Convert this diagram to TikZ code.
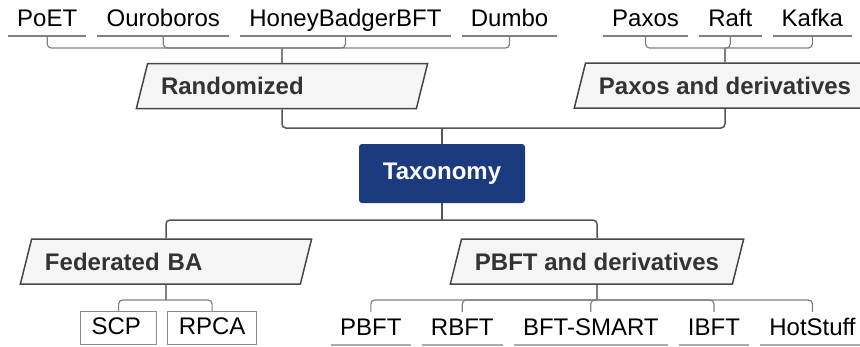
\documentclass[tikz,border=0pt]{standalone}
\usepackage{fontspec}
\setmainfont{Liberation Sans}
\usetikzlibrary{positioning,shapes.geometric}
\definecolor{taxblue}{HTML}{1C3A7E}
\definecolor{catfill}{HTML}{F5F5F5}
\definecolor{catline}{HTML}{474747}
\definecolor{cattext}{HTML}{333333}
\definecolor{trunkgray}{HTML}{555555}
\definecolor{twiggray}{HTML}{7F7F7F}
\definecolor{boxgray}{HTML}{8C8C8C}
\definecolor{topgray}{HTML}{808080}
\definecolor{lowgray}{HTML}{ABABAB}

\begin{document}
\begin{tikzpicture}[x=1pt,y=-1pt,
	leaf/.style={inner xsep=9pt, inner ysep=6pt, text height=17.2pt, text depth=3.5pt, font=\fontsize{24}{28}\selectfont},
	cat/.style={trapezium, trapezium left angle=76, trapezium right angle=104, draw=catline, fill=catfill, line width=1.5pt, text=cattext, font=\fontsize{24}{28}\selectfont\bfseries, text height=17.2pt, text depth=0pt, inner xsep=13.4pt, inner ysep=13.9pt, align=left},
	sbox/.style={leaf, draw=boxgray, line width=1.2pt, inner xsep=11pt, inner ysep=6.1pt},
	trunk/.style={draw=trunkgray, line width=1.5pt, rounded corners=4pt},
	twig/.style={draw=twiggray, line width=1.2pt, rounded corners=4pt},
	underTop/.style={draw=topgray, line width=1.2pt},
	underLow/.style={draw=lowgray, line width=2pt}]
	\useasboundingbox (0,0) rectangle (860,346);

	\node[fill=taxblue, rounded corners=3pt, text=white, font=\fontsize{24}{28}\selectfont\bfseries, minimum width=166pt, minimum height=59pt] (root) at (442,173.5) {Taxonomy};

	\node[cat, text width=242pt] (cRand) at (282,86) {Randomized};
	\node[cat] (cPaxos) at (725,85.5) {Paxos and derivatives};
	\node[cat, text width=242pt] (cFed) at (166,261.5) {Federated BA};
	\node[cat] (cPBFT) at (597,261.5) {PBFT and derivatives};

	\node[leaf, anchor=south west] (lPoET) at (8,36) {PoET};
	\node[leaf] (lOuro) [right=11pt of lPoET] {Ouroboros};
	\node[leaf] (lHB) [right=11pt of lOuro] {HoneyBadgerBFT};
	\node[leaf] (lDumbo) [right=11pt of lHB] {Dumbo};
	\node[leaf, anchor=south west] (lPaxos) at (603,36) {Paxos};
	\node[leaf] (lRaft) [right=11pt of lPaxos] {Raft};
	\node[leaf] (lKafka) [right=11pt of lRaft] {Kafka};

	\node[leaf, anchor=south west] (lPBFT) at (331,345) {PBFT};
	\node[leaf] (lRBFT) [right=11pt of lPBFT] {RBFT};
	\node[leaf] (lSMART) [right=11pt of lRBFT] {BFT-SMART};
	\node[leaf] (lIBFT) [right=11pt of lSMART] {IBFT};
	\node[leaf] (lHot) [right=11pt of lIBFT] {HotStuff};

	\node[sbox, anchor=south west, text width=54pt, align=left] (bSCP) at (80,345) {SCP};
	\node[sbox] (bRPCA) [right=10pt of bSCP] {RPCA};

	\coordinate (jRand) at (282,48);
	\coordinate (jPaxos) at (725,48);
	\coordinate (jTop) at (442,128);
	\coordinate (jBot) at (442,220);
	\coordinate (jFed) at (166,300);
	\coordinate (jPBFT) at (597,300);

	\foreach \n in {lPoET,lOuro,lHB,lDumbo,lPaxos,lRaft,lKafka}
		\draw[underTop] (\n.south west) -- (\n.south east);
	\foreach \n in {lPBFT,lRBFT,lSMART,lIBFT,lHot}
		\draw[underLow] (\n.south west) -- (\n.south east);

	\foreach \n in {lPoET,lOuro,lHB,lDumbo}
		\draw[twig] (\n.south) |- (jRand);
	\draw[twig] (jRand) -- (cRand.north -| jRand);
	\foreach \n in {lPaxos,lRaft,lKafka}
		\draw[twig] (\n.south) |- (jPaxos);
	\draw[twig] (jPaxos) -- (cPaxos.north -| jPaxos);

	\draw[trunk] (cRand.south -| jRand) |- (jTop) -| (cPaxos.south -| jPaxos);
	\draw[trunk] (root) -- (jTop);
	\draw[trunk] (root) -- (jBot);
	\draw[trunk] (cFed.north -| jFed) |- (jBot) -| (cPBFT.north -| jPBFT);

	\foreach \n in {bSCP,bRPCA}
		\draw[twig] (\n.north) |- (jFed);
	\draw[twig] (jFed) -- (cFed.south -| jFed);
	\foreach \n in {lPBFT,lRBFT,lSMART,lIBFT,lHot}
		\draw[twig] (\n.north) |- (jPBFT);
	\draw[twig] (jPBFT) -- (cPBFT.south -| jPBFT);
\end{tikzpicture}
\end{document}
